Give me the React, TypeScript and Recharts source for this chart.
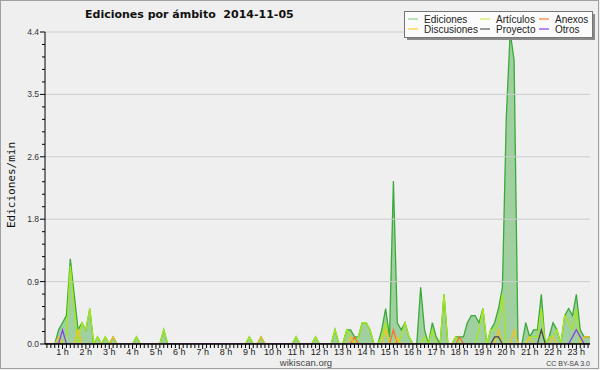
import React from "react";
import {
  ComposedChart,
  Area,
  Line,
  XAxis,
  YAxis,
  ReferenceLine,
} from "recharts";

// edits per minute, 10-minute slots, one row per hour (:00 :10 :20 :30 :40 :50)
const EDICIONES = [
  [0, 0, 0, 0, 0, 0.2],
  [0.3, 0.4, 1.2, 0.7, 0.2, 0.3],
  [0.2, 0.5, 0, 0.1, 0, 0.1],
  [0, 0.1, 0, 0, 0, 0],
  [0, 0.1, 0, 0, 0, 0],
  [0, 0, 0.2, 0, 0, 0],
  [0, 0, 0, 0, 0, 0],
  [0, 0, 0, 0, 0, 0],
  [0, 0, 0, 0, 0, 0],
  [0.1, 0, 0, 0.1, 0, 0],
  [0, 0, 0, 0, 0, 0],
  [0.1, 0, 0, 0, 0, 0.1],
  [0, 0, 0, 0, 0.2, 0],
  [0, 0.2, 0.2, 0.1, 0.1, 0.3],
  [0.3, 0.2, 0, 0, 0.2, 0.5],
  [0.1, 2.3, 0.3, 0.2, 0.3, 0.1],
  [0, 0, 0.8, 0.2, 0, 0.3],
  [0.1, 0, 0.7, 0, 0, 0.1],
  [0.1, 0.1, 0.3, 0.4, 0.4, 0.3],
  [0.5, 0, 0.2, 0.3, 0.5, 0.8],
  [3.2, 4.4, 4.0, 0, 0, 0.3],
  [0.1, 0.2, 0.2, 0.7, 0, 0.1],
  [0.3, 0.2, 0, 0.4, 0.5, 0.4],
  [0.7, 0.2, 0.1, 0.1, 0.1, 0.1],
];

const ARTICULOS = [
  [0, 0, 0, 0, 0, 0],
  [0, 0.1, 1.1, 0.5, 0, 0.3],
  [0.2, 0.5, 0, 0.1, 0, 0.1],
  [0, 0, 0, 0, 0, 0],
  [0, 0.1, 0, 0, 0, 0],
  [0, 0, 0.2, 0, 0, 0],
  [0, 0, 0, 0, 0, 0],
  [0, 0, 0, 0, 0, 0],
  [0, 0, 0, 0, 0, 0],
  [0.1, 0, 0, 0, 0, 0],
  [0, 0, 0, 0, 0, 0],
  [0.1, 0, 0, 0, 0, 0.1],
  [0, 0, 0, 0, 0.2, 0],
  [0, 0.2, 0.1, 0, 0.1, 0.3],
  [0.3, 0.2, 0, 0, 0.1, 0.3],
  [0, 0, 0, 0.1, 0.3, 0.1],
  [0, 0, 0, 0.1, 0, 0.2],
  [0, 0, 0.7, 0, 0, 0.1],
  [0, 0, 0, 0, 0, 0.2],
  [0.5, 0, 0.2, 0.2, 0.3, 0.7],
  [0, 0, 0, 0, 0, 0],
  [0.1, 0.1, 0.1, 0.5, 0, 0.1],
  [0.1, 0.2, 0, 0.4, 0.3, 0.2],
  [0.5, 0, 0, 0, 0, 0],
];

const DISCUSIONES = [
  [0, 0, 0, 0, 0, 0.1],
  [0, 0, 0, 0, 0.2, 0],
  [0, 0, 0, 0, 0, 0],
  [0, 0.1, 0, 0, 0, 0],
  [0, 0, 0, 0, 0, 0],
  [0, 0, 0, 0, 0, 0],
  [0, 0, 0, 0, 0, 0],
  [0, 0, 0, 0, 0, 0],
  [0, 0, 0, 0, 0, 0],
  [0, 0, 0, 0.1, 0, 0],
  [0, 0, 0, 0, 0, 0],
  [0, 0, 0, 0, 0, 0],
  [0, 0, 0, 0, 0, 0],
  [0, 0, 0.1, 0, 0, 0],
  [0, 0, 0, 0, 0, 0.2],
  [0, 0, 0.1, 0, 0, 0],
  [0, 0, 0, 0, 0, 0],
  [0, 0, 0, 0, 0, 0],
  [0, 0, 0, 0, 0, 0],
  [0, 0, 0, 0, 0.2, 0],
  [0, 0, 0.2, 0, 0, 0],
  [0.1, 0, 0, 0, 0, 0],
  [0.1, 0, 0, 0, 0, 0],
  [0, 0, 0.1, 0.1, 0.1, 0.1],
];

const ANEXOS = [
  [0, 0, 0, 0, 0, 0],
  [0, 0, 0, 0, 0, 0],
  [0, 0, 0, 0, 0, 0],
  [0, 0, 0, 0, 0, 0],
  [0, 0, 0, 0, 0, 0],
  [0, 0, 0, 0, 0, 0],
  [0, 0, 0, 0, 0, 0],
  [0, 0, 0, 0, 0, 0],
  [0, 0, 0, 0, 0, 0],
  [0, 0, 0, 0, 0, 0],
  [0, 0, 0, 0, 0, 0],
  [0, 0, 0, 0, 0, 0],
  [0, 0, 0, 0, 0, 0],
  [0, 0, 0, 0.1, 0, 0],
  [0, 0, 0, 0, 0, 0],
  [0, 0.2, 0, 0, 0, 0],
  [0, 0, 0, 0, 0, 0],
  [0, 0, 0, 0, 0, 0],
  [0.1, 0, 0, 0, 0, 0],
  [0, 0, 0, 0, 0, 0],
  [0, 0, 0, 0, 0, 0],
  [0, 0, 0, 0, 0, 0],
  [0, 0, 0, 0, 0, 0],
  [0, 0, 0, 0, 0, 0],
];

const PROYECTO = [
  [0, 0, 0, 0, 0, 0],
  [0, 0, 0, 0, 0, 0],
  [0, 0, 0, 0, 0, 0],
  [0, 0, 0, 0, 0, 0],
  [0, 0, 0, 0, 0, 0],
  [0, 0, 0, 0, 0, 0],
  [0, 0, 0, 0, 0, 0],
  [0, 0, 0, 0, 0, 0],
  [0, 0, 0, 0, 0, 0],
  [0, 0, 0, 0, 0, 0],
  [0, 0, 0, 0, 0, 0],
  [0, 0, 0, 0, 0, 0],
  [0, 0, 0, 0, 0, 0],
  [0, 0, 0, 0, 0, 0],
  [0, 0, 0, 0, 0, 0],
  [0, 0, 0, 0, 0, 0],
  [0, 0, 0, 0, 0, 0],
  [0, 0, 0, 0, 0, 0],
  [0, 0, 0, 0, 0, 0],
  [0, 0, 0, 0.1, 0.1, 0],
  [0, 0, 0, 0, 0, 0],
  [0, 0, 0, 0.2, 0, 0],
  [0, 0, 0, 0, 0, 0],
  [0, 0, 0, 0, 0, 0],
];

const OTROS = [
  [0, 0, 0, 0, 0, 0],
  [0.2, 0, 0, 0, 0, 0],
  [0, 0, 0, 0, 0, 0],
  [0, 0, 0, 0, 0, 0],
  [0, 0, 0, 0, 0, 0],
  [0, 0, 0, 0, 0, 0],
  [0, 0, 0, 0, 0, 0],
  [0, 0, 0, 0, 0, 0],
  [0, 0, 0, 0, 0, 0],
  [0, 0, 0, 0, 0, 0],
  [0, 0, 0, 0, 0, 0],
  [0, 0, 0, 0, 0, 0],
  [0, 0, 0, 0, 0, 0],
  [0, 0, 0, 0, 0, 0],
  [0, 0, 0, 0, 0, 0],
  [0, 0, 0, 0, 0, 0],
  [0, 0, 0, 0, 0, 0],
  [0, 0, 0, 0, 0, 0],
  [0, 0, 0, 0, 0, 0],
  [0, 0, 0, 0, 0, 0],
  [0, 0, 0, 0, 0, 0],
  [0, 0, 0, 0, 0, 0],
  [0, 0, 0, 0, 0, 0.1],
  [0.2, 0.1, 0, 0, 0, 0],
];

const HOURS = [1, 2, 3, 4, 5, 6, 7, 8, 9, 10, 11, 12, 13, 14, 15, 16, 17, 18, 19, 20, 21, 22, 23];
const Y_LABELS = [0, 0.88, 1.76, 2.64, 3.52, 4.4];
const Y_MAX = 4.4;

const LEGEND = [
  { name: "Ediciones", color: "#8fd08f" },
  { name: "Artículos", color: "#c8ee55" },
  { name: "Anexos", color: "#ff7a3a" },
  { name: "Discusiones", color: "#ffcc33" },
  { name: "Proyecto", color: "#555555" },
  { name: "Otros", color: "#9040f0" },
];

const flat = (rows: number[][]) => rows.flat();
const ed = flat(EDICIONES);
const art = flat(ARTICULOS);
const dis = flat(DISCUSIONES);
const anx = flat(ANEXOS);
const pro = flat(PROYECTO);
const otr = flat(OTROS);

const data = ed.map((v, i) => ({
  t: i * 10,
  ed: v,
  art: art[i],
  dis: dis[i],
  anx: anx[i],
  pro: pro[i],
  otr: otr[i],
}));

const X_DOMAIN: [number, number] = [15, 1415];
const xTicks: number[] = [];
for (let t = 20; t <= 1410; t += 10) xTicks.push(t);
const yTicks: number[] = [];
for (let k = 0; k <= 25; k++) yTicks.push((Y_MAX / 25) * k);

const FONT = "'Liberation Sans', Arial, sans-serif";

function XTick(props: any) {
  const { x, y, payload } = props;
  const t = payload.value;
  const hour = t % 60 === 0 ? t / 60 : null;
  const isLabel = hour !== null && HOURS.includes(hour);
  return (
    <g>
      <line x1={x} x2={x} y1={y} y2={y + (isLabel ? 5 : 4)} stroke="#000" />
      {isLabel && (
        <text x={x} y={y + 10.5} textAnchor="middle" fontSize={9} fontFamily={FONT} fill="#222">
          {`${hour} h`}
        </text>
      )}
    </g>
  );
}

function YTick(props: any) {
  const { x, y, payload } = props;
  const k = Math.round(payload.value / (Y_MAX / 25));
  const major = k % 5 === 0;
  const label = Y_LABELS[k / 5];
  return (
    <g>
      <line x1={x - (major ? 5 : 3)} x2={x} y1={y} y2={y} stroke="#000" />
      {major && (
        <text x={x - 6} y={y + 3} textAnchor="end" fontSize={8.5} fontFamily={FONT} fill="#333">
          {label.toFixed(1)}
        </text>
      )}
    </g>
  );
}

export default function App() {
  const cols = [408, 480, 539];
  const rowsY = [19, 29];
  return (
    <div style={{ position: "absolute", left: 0, top: 0, width: 600, height: 370, background: "#efefef" }}>
      <ComposedChart
        width={600}
        height={370}
        data={data}
        margin={{ top: 32, right: 10, bottom: 0, left: 5 }}
      >
        <XAxis
          dataKey="t"
          type="number"
          domain={X_DOMAIN}
          ticks={xTicks}
          interval={0}
          tick={<XTick />}
          tickLine={false}
          tickSize={0}
          tickMargin={0}
          axisLine={{ stroke: "#000" }}
          height={26}
          allowDataOverflow
        />
        <YAxis
          type="number"
          domain={[0, Y_MAX]}
          ticks={yTicks}
          interval={0}
          tick={<YTick />}
          tickLine={false}
          tickSize={0}
          tickMargin={0}
          axisLine={{ stroke: "#000" }}
          width={40}
          allowDataOverflow
        />
        {Y_LABELS.slice(1).map((v) => (
          <ReferenceLine key={v} y={v} stroke="#cccccc" />
        ))}
        <Area
          type="linear"
          dataKey="ed"
          stroke="#3aaa3a"
          strokeWidth={1.3}
          fill="#8cc88c"
          fillOpacity={0.8}
          isAnimationActive={false}
          dot={false}
          activeDot={false}
        />
        <Line type="linear" dataKey="art" stroke="#a6e81a" strokeWidth={1.3} dot={false} activeDot={false} isAnimationActive={false} />
        <Line type="linear" dataKey="anx" stroke="#ff6a2a" strokeWidth={1.2} dot={false} activeDot={false} isAnimationActive={false} />
        <Line type="linear" dataKey="dis" stroke="#f5c21b" strokeWidth={1.2} dot={false} activeDot={false} isAnimationActive={false} />
        <Line type="linear" dataKey="pro" stroke="#444444" strokeWidth={1.2} dot={false} activeDot={false} isAnimationActive={false} />
        <Line type="linear" dataKey="otr" stroke="#8a3af0" strokeWidth={1.2} dot={false} activeDot={false} isAnimationActive={false} />
        <ReferenceLine y={0} stroke="#000" />
      </ComposedChart>
      <svg
        width={600}
        height={370}
        style={{ position: "absolute", left: 0, top: 0, pointerEvents: "none" }}
      >
        <rect x={0.5} y={0.5} width={598} height={368} fill="none" stroke="#a0a0a0" />
        <text x={85} y={18} fontSize={11} fontWeight="bold" fontFamily="'DejaVu Sans', sans-serif" fill="#111" style={{ whiteSpace: "pre" }}>
          {"Ediciones por ámbito  2014-11-05"}
        </text>
        <text
          transform="translate(15,185) rotate(-90)"
          textAnchor="middle"
          fontSize={11}
          fontFamily="'DejaVu Sans Mono', monospace"
          fill="#111"
        >
          Ediciones/min
        </text>
        <rect x={407} y={14} width={188} height={26} fill="#8a8a8a" />
        <rect x={404.5} y={11.5} width={188} height={26} fill="#fbfbfb" stroke="#777" />
        {LEGEND.map((item, i) => {
          const cx = cols[i % 3];
          const cy = rowsY[Math.floor(i / 3)];
          return (
            <g key={item.name}>
              <line x1={cx} x2={cx + 10} y1={cy} y2={cy} stroke={item.color} strokeWidth={1.2} />
              <text x={cx + 16} y={cy + 3.5} fontSize={10} fontFamily={FONT} fill="#222">
                {item.name}
              </text>
            </g>
          );
        })}
        <text x={306} y={366} textAnchor="middle" fontSize={9.5} fontFamily={FONT} fill="#444">
          wikiscan.org
        </text>
        <text x={590} y={366} textAnchor="end" fontSize={7} fontFamily={FONT} fill="#444">
          CC BY-SA 3.0
        </text>
      </svg>
    </div>
  );
}
